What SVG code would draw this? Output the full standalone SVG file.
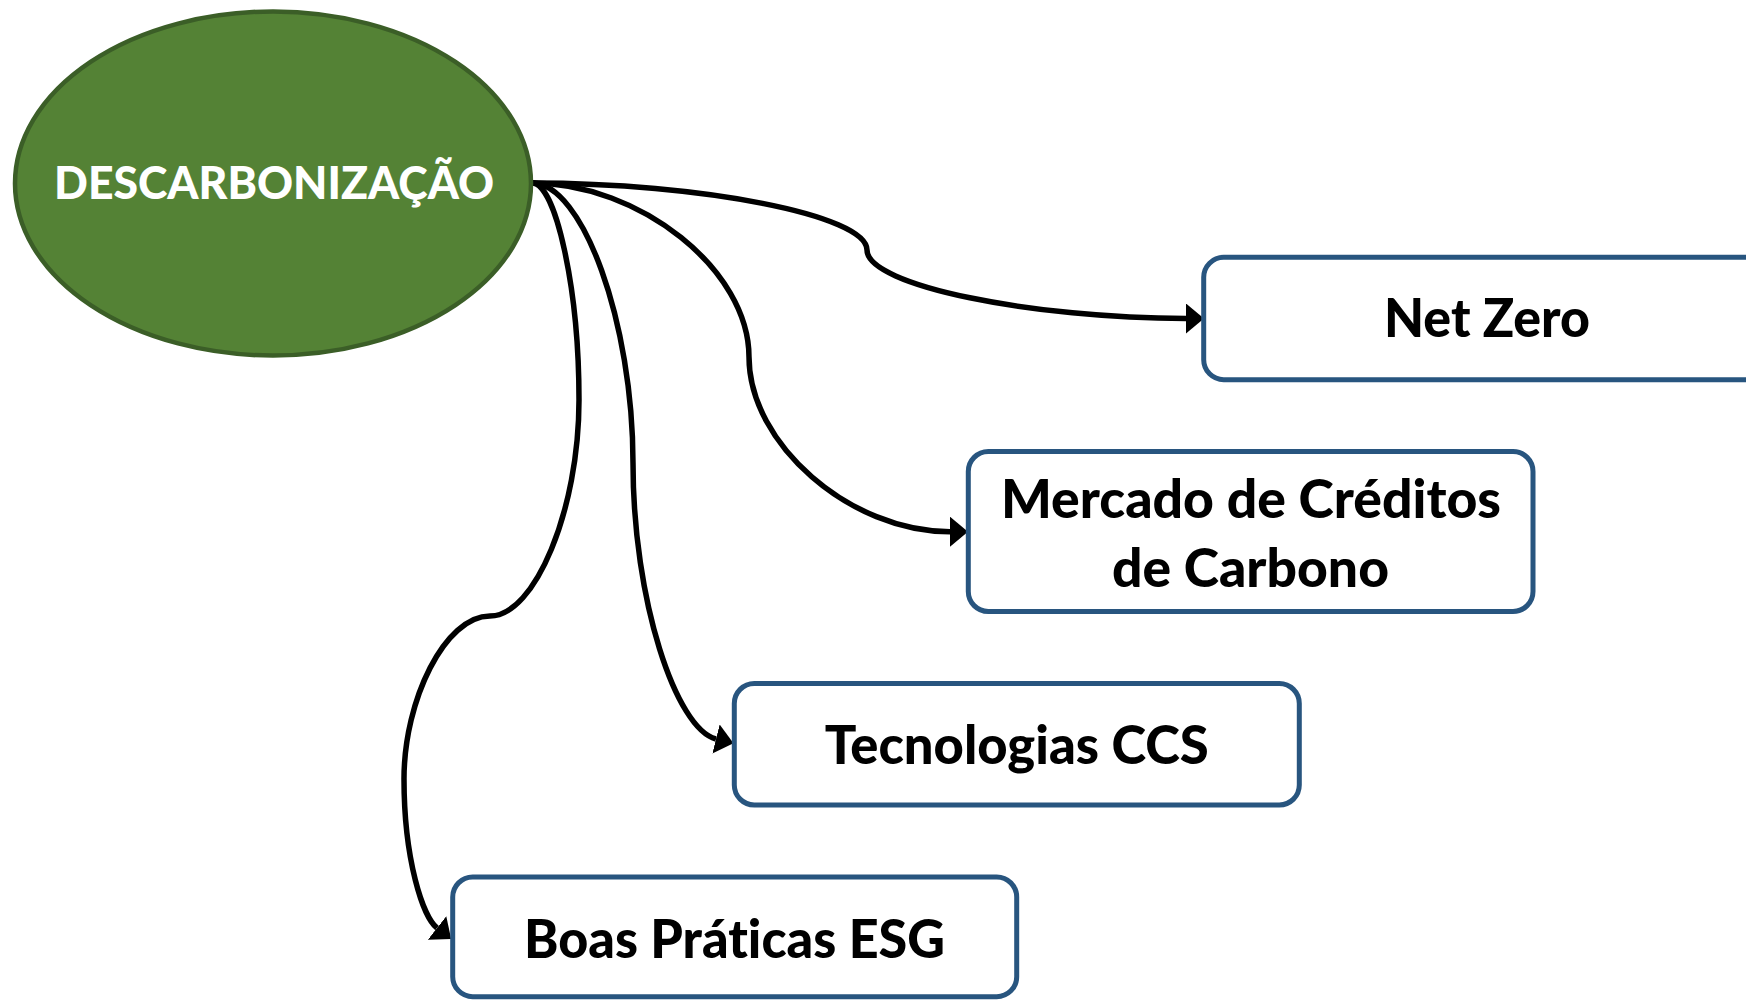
<svg xmlns="http://www.w3.org/2000/svg" width="1746" height="1001" viewBox="0 0 1746 1001">
  <defs>
    <style>
      .box { fill: #ffffff; stroke: #28557f; stroke-width: 5; }
      .lbl { font-family: Lato, "Liberation Sans", Arial, sans-serif; font-weight: 900; font-size: 53px; fill: #000000; text-anchor: middle; font-variant-ligatures: none; font-feature-settings: "liga" 0, "clig" 0; }
      .title { font-family: Lato, "Liberation Sans", Arial, sans-serif; font-weight: 900; font-size: 46px; fill: #ffffff; text-anchor: middle; font-variant-ligatures: none; }
      .conn { fill: none; stroke: #000000; stroke-width: 5.5; marker-end: url(#arrow); }
    </style>
    <marker id="arrow" markerUnits="userSpaceOnUse" viewBox="0 0 18 30" refX="0" refY="15" markerWidth="18" markerHeight="30" orient="auto">
      <path d="M0,0 L18,15 L0,30 Z" fill="#000000"/>
    </marker>
  </defs>
  <rect width="1746" height="1001" fill="#ffffff"/>

  <g id="connectors">
    <path class="conn" d="M532,183 C700,183 867,215 867,250 C867,286 1035,318.5 1186,318.5"/>
    <path class="conn" d="M532,183 C640,183 749,270 749,357 C749,444 850,531.7 950,531.7"/>
    <path class="conn" d="M532,183 C583,183 633,323 633,463 C633,600 676,729 716,739"/>
    <path class="conn" d="M532,183 C556,183 579,290 579,400 C579,510 535,616 490,616 C445,616 404,700 404,779 C404,860 423,917 437,928"/>
  </g>

  <g id="node-descarbonizacao">
    <ellipse cx="273" cy="183.5" rx="258" ry="172" fill="#548235" stroke="#3b5e27" stroke-width="4.5"/>
    <text class="title" x="274" y="199" textLength="440" lengthAdjust="spacingAndGlyphs">DESCARBONIZAÇÃO</text>
  </g>

  <g id="node-net-zero">
    <rect class="box" x="1203.7" y="257.3" width="564" height="122.4" rx="20" ry="20"/>
    <text class="lbl" x="1487" y="337" textLength="206" lengthAdjust="spacingAndGlyphs">Net Zero</text>
  </g>

  <g id="node-mercado">
    <rect class="box" x="968.3" y="451.5" width="564.7" height="160" rx="20" ry="20"/>
    <text class="lbl" x="1251" y="518" textLength="500" lengthAdjust="spacingAndGlyphs">Mercado de Créditos</text>
    <text class="lbl" x="1250.5" y="587" textLength="277" lengthAdjust="spacingAndGlyphs">de Carbono</text>
  </g>

  <g id="node-tecnologias">
    <rect class="box" x="734.3" y="683.5" width="565" height="121.5" rx="20" ry="20"/>
    <text class="lbl" x="1016.8" y="764" textLength="384" lengthAdjust="spacingAndGlyphs">Tecnologias CCS</text>
  </g>

  <g id="node-boas-praticas">
    <rect class="box" x="452.7" y="877" width="564" height="119.7" rx="20" ry="20"/>
    <text class="lbl" x="734.5" y="958" textLength="421" lengthAdjust="spacingAndGlyphs">Boas Práticas ESG</text>
  </g>
</svg>
